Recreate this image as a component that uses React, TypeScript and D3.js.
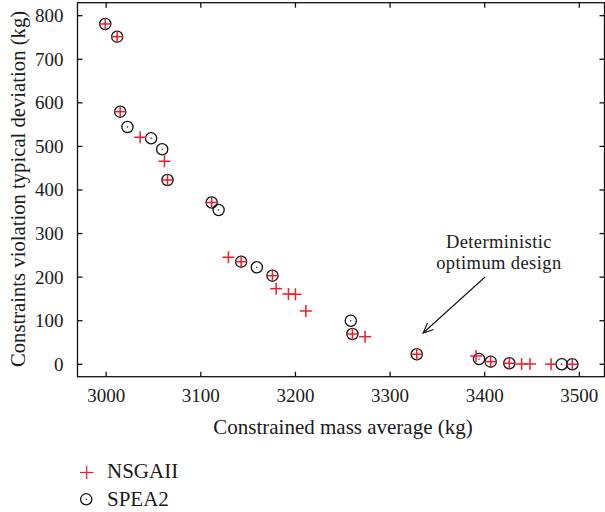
import React from "react";
import * as d3 from "d3";

const xTicks = [3000, 3100, 3200, 3300, 3400, 3500];
const yTicks = [0, 100, 200, 300, 400, 500, 600, 700, 800];

const nsgaX = [2999, 3011.6, 3014.8, 3035.9, 3061.6, 3064.8, 3111.5, 3129.2, 3142.6, 3175.7, 3179.6, 3192.6, 3200, 3211, 3260.2, 3273.6, 3328.2, 3390.9, 3406.4, 3426, 3439, 3447.9, 3470.1, 3492.6];
const nsgaY = [781, 751.8, 579.7, 521, 465.9, 423, 371.3, 245.6, 235.5, 203.3, 173.5, 161.3, 160.6, 122.3, 69.5, 63.3, 23, 19, 6, 2.3, 0.7, 0.7, 0.3, 0];

const speaX = [2999, 3011.6, 3014.8, 3022.5, 3047.5, 3059.2, 3064.8, 3111.5, 3118.8, 3142.6, 3159.2, 3175.7, 3258.5, 3260.2, 3328.2, 3394, 3406.4, 3426, 3481.4, 3492.6];
const speaY = [781, 751.8, 579.7, 544.6, 518.6, 493.4, 423, 371.3, 354.1, 235.5, 222.6, 203.3, 100, 69.5, 23, 12.2, 6, 2.3, 0, 0];

const seriesNames = ["NSGAII", "SPEA2"];
const annotationLines = ["Deterministic", "optimum design"];
const xTitle = "Constrained mass average (kg)";
const yTitle = "Constraints violation typical deviation (kg)";

const W = 605;
const H = 512;
const left = 77.5;
const right = 604.5;
const top = 2.7;
const bottom = 376.7;
const FONT = "'Liberation Serif', 'Times New Roman', serif";
const RED = "#e8202a";
const INK = "#1a1a1a";

export default function App() {
  const x = d3.scaleLinear().domain([2969.7, 3526.6]).range([left, right]);
  const y = d3.scaleLinear().domain([-28.5, 829.8]).range([bottom, top]);
  const tick = 5;
  const plus = (cx: number, cy: number, s: number, key: string, sw = 1.5) => (
    <g key={key} stroke={RED} strokeWidth={sw}>
      <line x1={cx - s} x2={cx + s} y1={cy} y2={cy} />
      <line x1={cx} x2={cx} y1={cy - s} y2={cy + s} />
    </g>
  );
  const circ = (cx: number, cy: number, key: string) => (
    <g key={key}>
      <circle cx={cx} cy={cy} r={5.6} fill="none" stroke="#111" strokeWidth={1.3} />
      <circle cx={cx} cy={cy} r={0.7} fill="#111" />
    </g>
  );
  // arrow in data coordinates
  const ax1 = x(3400.4), ay1 = y(200.3), ax2 = x(3334.9), ay2 = y(71.8);
  const ang = Math.atan2(ay2 - ay1, ax2 - ax1);
  const hl = 11, ha = 0.42;
  const h1 = [ax2 - hl * Math.cos(ang - ha), ay2 - hl * Math.sin(ang - ha)];
  const h2 = [ax2 - hl * Math.cos(ang + ha), ay2 - hl * Math.sin(ang + ha)];
  const textX = x(3415);

  return (
    <svg width={W} height={H} style={{ position: "absolute", left: 0, top: 0, background: "#fff" }} fontFamily={FONT}>
      <rect x={0} y={0} width={W} height={H} fill="#fff" />
      {/* frame */}
      <rect x={left} y={top} width={right - left} height={bottom - top} fill="none" stroke="#111" strokeWidth={1.3} />
      {/* x ticks */}
      {xTicks.map((t) => (
        <g key={"xt" + t}>
          <line x1={x(t)} x2={x(t)} y1={bottom} y2={bottom - tick} stroke="#111" strokeWidth={1.3} />
          <line x1={x(t)} x2={x(t)} y1={top} y2={top + tick} stroke="#111" strokeWidth={1.3} />
          <text x={x(t)} y={401.7} textAnchor="middle" fontSize={19} fill={INK}>{t}</text>
        </g>
      ))}
      {yTicks.map((t) => (
        <g key={"yt" + t}>
          <line x1={left} x2={left + tick} y1={y(t)} y2={y(t)} stroke="#111" strokeWidth={1.3} />
          <line x1={right} x2={right - tick} y1={y(t)} y2={y(t)} stroke="#111" strokeWidth={1.3} />
          <text x={63.5} y={y(t) + 6.5} textAnchor="end" fontSize={19} fill={INK}>{t}</text>
        </g>
      ))}
      {/* axis titles */}
      <text x={343} y={434} textAnchor="middle" fontSize={21} fill={INK}>{xTitle}</text>
      <text transform={`translate(25, 189) rotate(-90)`} textAnchor="middle" fontSize={20.7} fill={INK}>{yTitle}</text>
      {/* SPEA2 circles */}
      {speaX.map((v, i) => circ(x(v), y(speaY[i]), "c" + i))}
      {/* NSGAII plus */}
      {nsgaX.map((v, i) => plus(x(v), y(nsgaY[i]), 6, "p" + i))}
      {/* annotation */}
      {annotationLines.map((s, i) => (
        <text key={"an" + i} x={textX} y={248 + i * 21} textAnchor="middle" fontSize={18.5} letterSpacing={0.4} fill={INK}>{s}</text>
      ))}
      <line x1={ax1} y1={ay1} x2={ax2} y2={ay2} stroke="#111" strokeWidth={1.1} />
      <polyline points={`${h1[0]},${h1[1]} ${ax2},${ay2} ${h2[0]},${h2[1]}`} fill="none" stroke="#111" strokeWidth={1.1} />
      {/* legend */}
      {plus(86.7, 472.5, 6.7, "lp", 1.2)}
      <text x={107} y={478.3} fontSize={21} fill={INK}>{seriesNames[0]}</text>
      {circ(86.2, 499.3, "lc")}
      <text x={107} y={506} fontSize={21} fill={INK}>{seriesNames[1]}</text>
    </svg>
  );
}
